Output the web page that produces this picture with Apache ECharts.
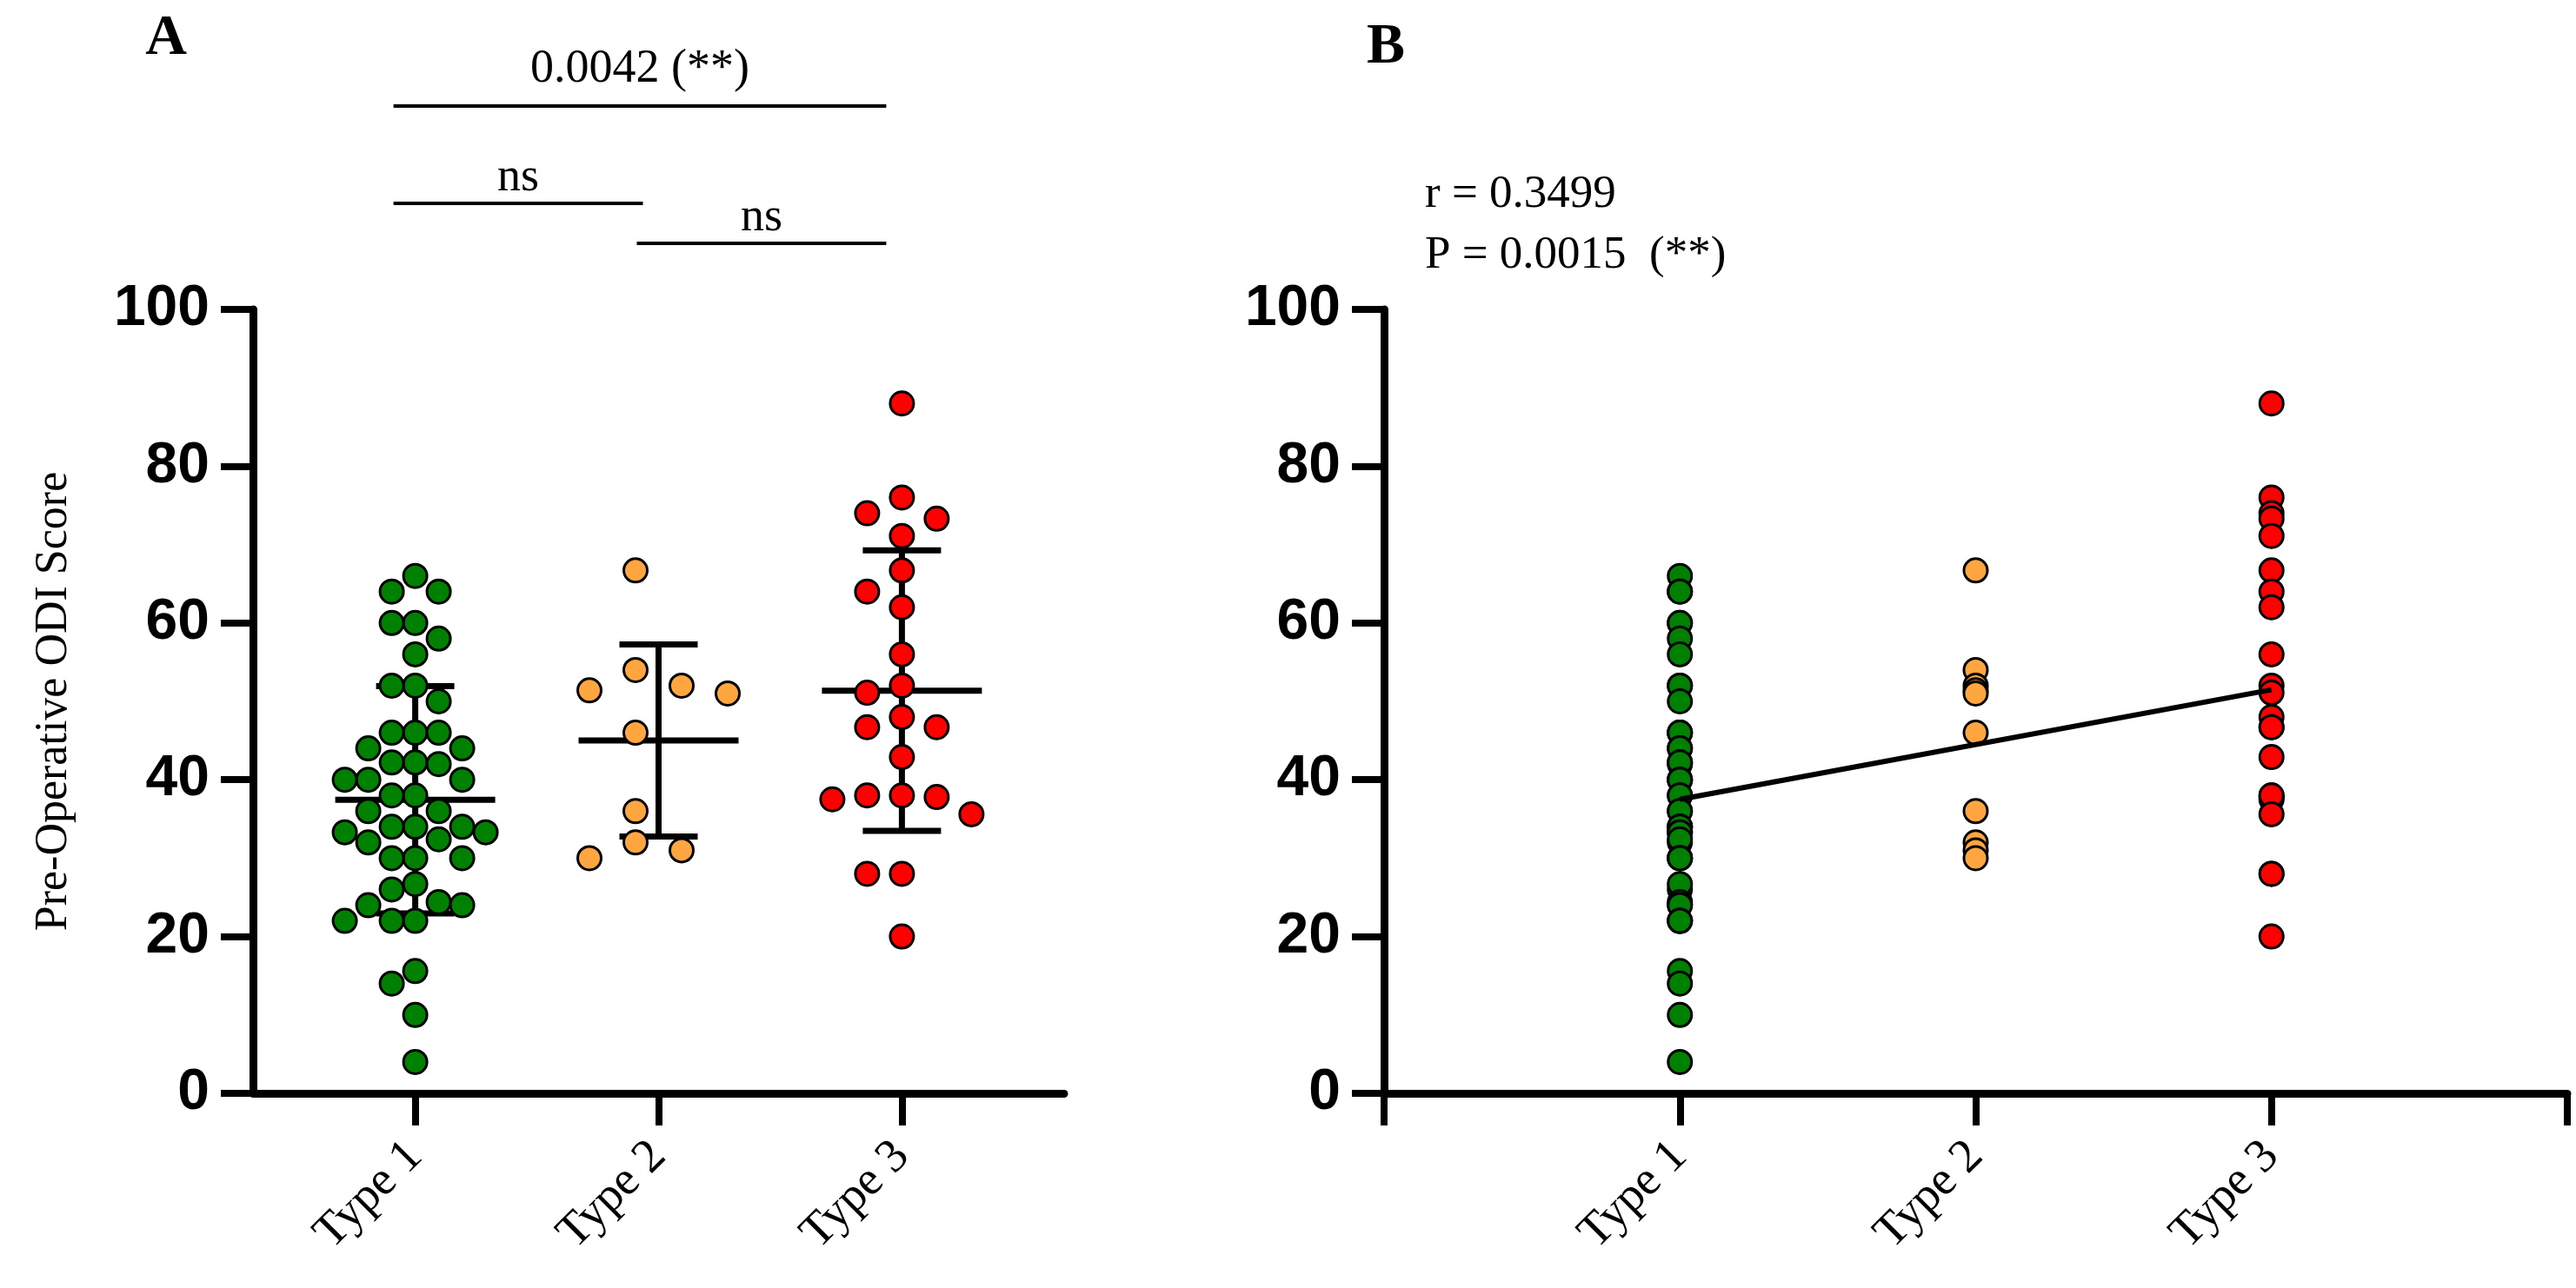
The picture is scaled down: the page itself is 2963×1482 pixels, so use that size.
<!DOCTYPE html>
<html>
<head>
<meta charset="utf-8">
<script src="https://cdn.jsdelivr.net/npm/echarts@6/dist/echarts.min.js"></script>
<style>
  html, body { margin: 0; padding: 0; background: #fff; }
  #main { width: 2963px; height: 1482px; }
</style>
</head>
<body>
<div id="main"></div>
<script>
// ---- data ----
const categories = ['Type 1', 'Type 2', 'Type 3'];
const type1 = [66, 64, 64, 60, 60, 58, 56, 52, 52, 50, 46, 46, 46, 44, 44, 42.2, 42, 42.2, 40, 40,
               40, 38, 38, 36, 36, 34, 34, 34, 33.3, 33.3, 32, 32.4, 30, 30, 30, 26, 26.7, 24.4, 24, 24,
               22, 22, 22, 15.6, 14, 10, 4];
const type2 = [66.7, 54, 52, 51.4, 51, 46, 36, 32, 31, 30];
const type3 = [88, 76, 74, 73.3, 71.1, 66.7, 64, 62, 56, 52, 51.1, 48, 46.7, 46.7, 42.9, 38, 37.5, 37.8, 38, 35.6,
               28, 28, 20];
const yTicks = [0, 20, 40, 60, 80, 100];
// pairwise comparisons: [from group, to group, label]
const comparisons = [[1, 3, '0.0042 (**)'], [1, 2, 'ns'], [2, 3, 'ns']];
const corrText = ['r = 0.3499', 'P = 0.0015  (**)'];

const groups = [type1, type2, type3];
const colors = ['#008000', '#ffa640', '#ff0000'];

// ---- layout ----
const W = 2963, H = 1482;
const gridA = { left: 291, right: 1739, top: 356, bottom: 224 };
const gridB = { left: 1592, right: 10, top: 356, bottom: 224 };
const xMinA = 1 / 3, xMaxA = 11 / 3;
const pxPerX = (W - gridA.left - gridA.right) / (xMaxA - xMinA);
const pxPerY = (H - gridA.top - gridA.bottom) / (yTicks[yTicks.length - 1] - yTicks[0]);

// simple greedy beeswarm, offsets in pixels
function swarm(values, step, half) {
  const thr = Math.min(step, 30);
  const order = values.map((v, i) => i).sort((a, b) => values[b] - values[a]);
  const cands = [];
  for (let k = 0; k < 15; k++) {
    if (half) cands.push(-(k + 0.5), k + 0.5);
    else if (k === 0) cands.push(0);
    else cands.push(-k, k);
  }
  const placed = [];
  const off = new Array(values.length).fill(0);
  order.forEach(i => {
    const y = values[i] * pxPerY;
    for (const c of cands) {
      const x = c * step;
      if (placed.every(p => (p.x - x) ** 2 + (p.y - y) ** 2 >= thr * thr)) {
        placed.push({ x: x, y: y });
        off[i] = x;
        break;
      }
    }
  });
  return off;
}
const swarmStep = [27, 53, 40];
const swarmHalf = [false, true, false];

function mean(a) { return a.reduce((s, v) => s + v, 0) / a.length; }
function sd(a) {
  const m = mean(a);
  return Math.sqrt(a.reduce((s, v) => s + (v - m) ** 2, 0) / (a.length - 1));
}

// linear fit of score against type number
const fx = [], fy = [];
groups.forEach((g, gi) => g.forEach(v => { fx.push(gi + 1); fy.push(v); }));
const mx = mean(fx), my = mean(fy);
let sxy = 0, sxx = 0;
fx.forEach((x, i) => { sxy += (x - mx) * (fy[i] - my); sxx += (x - mx) ** 2; });
const slope = sxy / sxx, icpt = my - slope * mx;
const fitLine = [[1, icpt + slope], [3, icpt + 3 * slope]];

const summary = groups.map((g, gi) => [gi + 1, mean(g), sd(g)]);

const black = '#000';
const serif = 'Liberation Serif';
const sans = 'Liberation Sans';

function yAxisOf(gridIndex, withName) {
  return {
    type: 'value', gridIndex: gridIndex, min: yTicks[0], max: yTicks[yTicks.length - 1], interval: 20,
    name: withName ? 'Pre-Operative ODI Score' : '',
    nameLocation: 'middle', nameGap: 203,
    nameTextStyle: { fontFamily: serif, fontSize: 52, color: black },
    axisLine: { show: true, lineStyle: { color: black, width: 9 } },
    axisTick: { show: true, length: 37, lineStyle: { color: black, width: 8 } },
    axisLabel: { fontFamily: sans, fontWeight: 'bold', fontSize: 66, color: black, margin: 50 },
    splitLine: { show: false }
  };
}
function xAxisOf(gridIndex, min, max, ticks) {
  return {
    type: 'value', gridIndex: gridIndex, min: min, max: max,
    axisLine: { show: true, onZero: false, lineStyle: { color: black, width: 9 } },
    axisTick: { show: true, length: 37, customValues: ticks, lineStyle: { color: black, width: 8 } },
    axisLabel: {
      customValues: [1, 2, 3], formatter: v => categories[Math.round(v) - 1],
      rotate: 45, fontFamily: serif, fontSize: 55, color: black, margin: 64
    },
    splitLine: { show: false }
  };
}

const series = [];
// mean +/- SD bars (panel A)
series.push({
  type: 'custom', xAxisIndex: 0, yAxisIndex: 0, z: 2,
  data: summary,
  renderItem: function (params, api) {
    const x = api.value(0), m = api.value(1), s = api.value(2);
    const c = api.coord([x, m]);
    const t = api.coord([x, m + s]);
    const b = api.coord([x, m - s]);
    const st = { stroke: black, lineWidth: 7 };
    return {
      type: 'group', children: [
        { type: 'line', shape: { x1: c[0] - 92, y1: c[1], x2: c[0] + 92, y2: c[1] }, style: st },
        { type: 'line', shape: { x1: c[0], y1: t[1], x2: c[0], y2: b[1] }, style: st },
        { type: 'line', shape: { x1: c[0] - 45, y1: t[1], x2: c[0] + 45, y2: t[1] }, style: st },
        { type: 'line', shape: { x1: c[0] - 45, y1: b[1], x2: c[0] + 45, y2: b[1] }, style: st }
      ]
    };
  }
});
groups.forEach((g, gi) => {
  const off = swarm(g, swarmStep[gi], swarmHalf[gi]);
  series.push({
    type: 'scatter', xAxisIndex: 0, yAxisIndex: 0, z: 3,
    symbolSize: 27,
    itemStyle: { color: colors[gi], borderColor: black, borderWidth: 3, opacity: 1 },
    data: g.map((v, i) => [gi + 1 + off[i] / pxPerX, v])
  });
  series.push({
    type: 'scatter', xAxisIndex: 1, yAxisIndex: 1, z: 3,
    symbolSize: 27,
    itemStyle: { color: colors[gi], borderColor: black, borderWidth: 3, opacity: 1 },
    data: g.map(v => [gi + 1, v])
  });
});
series.push({
  type: 'line', xAxisIndex: 1, yAxisIndex: 1, z: 4,
  data: fitLine, symbol: 'none',
  lineStyle: { color: black, width: 6 }
});

const chart = echarts.init(document.getElementById('main'));
chart.setOption({
  backgroundColor: '#fff',
  animation: false,
  grid: [
    Object.assign({ containLabel: false }, gridA),
    Object.assign({ containLabel: false }, gridB)
  ],
  xAxis: [xAxisOf(0, xMinA, xMaxA, [1, 2, 3]), xAxisOf(1, 0, 4, [0, 1, 2, 3, 4])],
  yAxis: [yAxisOf(0, true), yAxisOf(1, false)],
  series: series
});

// annotations placed from the axis scale
const px = v => chart.convertToPixel({ xAxisIndex: 0 }, v);
const barY = [122, 234, 280];
const barTextY = [80, 205, 251];
const graphics = [];
comparisons.forEach((cmp, k) => {
  const x1 = px(cmp[0]) - 25, x2 = px(cmp[1]) - 18;
  graphics.push({
    type: 'line', shape: { x1: x1, y1: barY[k], x2: x2, y2: barY[k] },
    style: { stroke: black, lineWidth: 4 }
  });
  graphics.push({
    type: 'text', x: (x1 + x2) / 2, y: barTextY[k],
    style: { text: cmp[2], fontFamily: serif, fontSize: 54, fill: black, textAlign: 'center', textVerticalAlign: 'middle' }
  });
});
graphics.push({
  type: 'text', x: 191, y: 45,
  style: { text: 'A', fontFamily: serif, fontWeight: 'bold', fontSize: 66, fill: black, textAlign: 'center', textVerticalAlign: 'middle' }
});
graphics.push({
  type: 'text', x: 1594, y: 55,
  style: { text: 'B', fontFamily: serif, fontWeight: 'bold', fontSize: 66, fill: black, textAlign: 'center', textVerticalAlign: 'middle' }
});
corrText.forEach((t, k) => {
  graphics.push({
    type: 'text', x: 1639, y: [224, 294][k],
    style: { text: t, fontFamily: serif, fontSize: 53, fill: black, textAlign: 'left', textVerticalAlign: 'middle' }
  });
});
chart.setOption({ graphic: graphics });
</script>
</body>
</html>
